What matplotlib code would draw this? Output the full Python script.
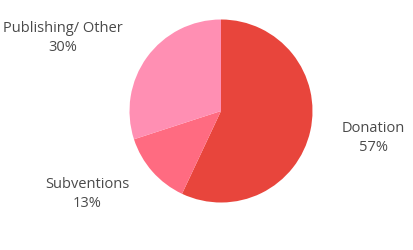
import matplotlib.pyplot as plt

labels = ['Donation', 'Subventions', 'Publishing/ Other']
values = [57, 13, 30]
colors = ['#E8453C', '#FF6B81', '#FF8FB3']

# label anchor points in pixel coords (from top-left)
label_pos = [(373, 138), (87, 194), (63, 38)]

W, H = 413, 251
fig = plt.figure(figsize=(W / 100, H / 100), dpi=100)
ax = fig.add_axes([0, 0, 1, 1])

ax.pie(values, colors=colors, startangle=-90, counterclock=True,
       center=(221, 112), radius=91.5, frame=True,
       wedgeprops=dict(linewidth=0))
ax.set_xlim(0, W)
ax.set_ylim(H, 0)
ax.set_aspect('equal')
ax.axis('off')

for lab, val, (x, y) in zip(labels, values, label_pos):
    ax.text(x, y, f'{lab}\n{val}%', ha='center', va='center',
            fontsize=10.5, color='#4a4a4a', family='Open Sans',
            linespacing=1.3)

fig.savefig('out.png', dpi=100)
